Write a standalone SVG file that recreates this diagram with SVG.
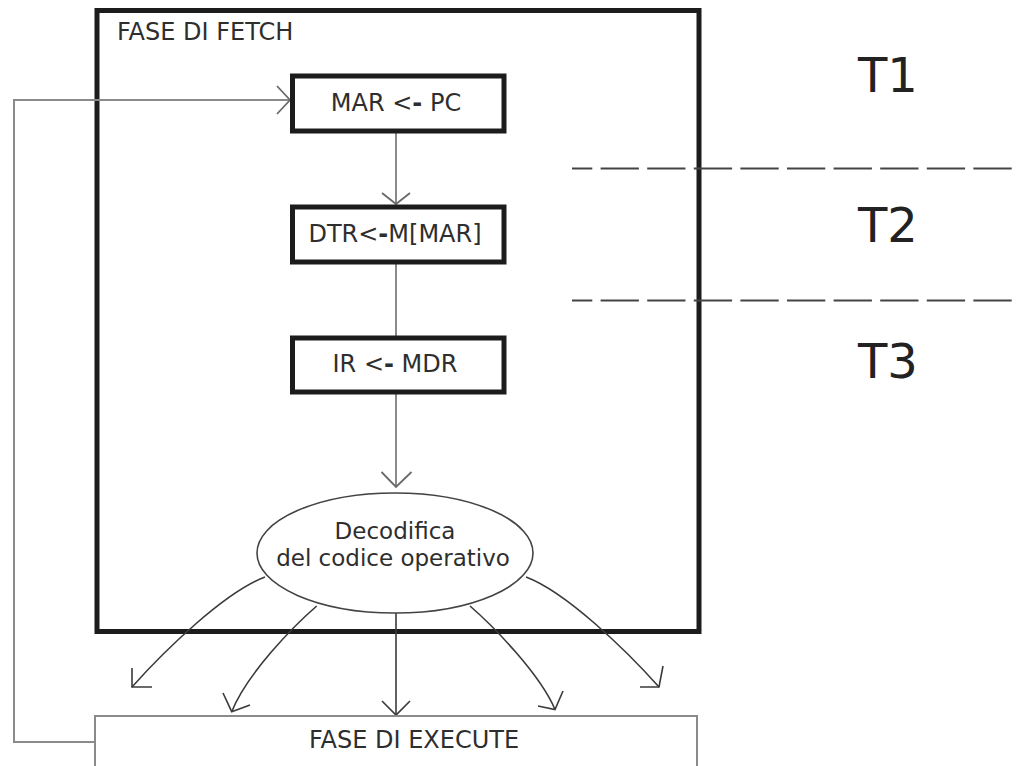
<svg xmlns="http://www.w3.org/2000/svg" width="1018" height="766" viewBox="0 0 1018 766">
  <style>
    .frame { fill: none; stroke: #1c1c1c; stroke-width: 5; }
    .box { fill: #fff; stroke: #1c1c1c; stroke-width: 5; }
    .thin { fill: #fff; stroke: #8a8a8a; stroke-width: 2; }
    .ell { fill: #fff; stroke: #444; stroke-width: 1.6; }
    .conn { fill: none; stroke: #8a8a8a; stroke-width: 2; }
    .curve { fill: none; stroke: #3a3a3a; stroke-width: 1.6; }
    .head { fill: none; stroke: #3a3a3a; stroke-width: 1.6; }
    .headg { fill: none; stroke: #6a6a6a; stroke-width: 1.8; }
    .dash { fill: none; stroke: #444; stroke-width: 2; stroke-dasharray: 38.3 8.3; }
    .t { font-family: "DejaVu Sans", Verdana, sans-serif; fill: #2e2e2e; }
    .lbl { font-size: 24px; }
    .el { font-size: 23px; }
    .big { font-size: 48px; fill: #222; }
  </style>

  <g id="frame-fetch">
    <rect class="frame" x="97" y="10.5" width="602" height="621"/>
    <text class="t lbl" x="117" y="40">FASE DI FETCH</text>
  </g>

  <g id="timing">
    <line class="dash" x1="572" y1="168.5" x2="1018" y2="168.5" stroke-dashoffset="18"/>
    <line class="dash" x1="572" y1="300.5" x2="1018" y2="300.5" stroke-dashoffset="18"/>
    <text class="t big" x="858" y="92">T1</text>
    <text class="t big" x="858" y="242">T2</text>
    <text class="t big" x="858" y="378">T3</text>
  </g>

  <g id="connectors">
    <polyline class="conn" points="95,742 14,742 14,100 290,100"/>
    <path class="headg" d="M277,86 L290,100 L277,114"/>
    <line class="conn" x1="396" y1="132" x2="396" y2="204"/>
    <path class="headg" d="M382,193 L396,204 L410,193"/>
    <line class="conn" x1="396" y1="264" x2="396" y2="336"/>
    <line class="conn" x1="396" y1="393" x2="396" y2="487"/>
    <path class="headg" d="M381.5,472 L396,487 L411.5,472"/>

    <path class="curve" d="M265,577 C225,592 165,650 132,687"/>
    <path class="head" d="M132,668 L132,687 L152,687"/>
    <path class="curve" d="M316.7,606 C292.7,626.8 246.7,674.2 231.7,711.7"/>
    <path class="head" d="M223,693 L231.7,711.7 L250,705"/>
    <line class="curve" x1="396" y1="613" x2="396" y2="715"/>
    <path class="head" d="M382,701 L396,715 L410,701"/>
    <path class="curve" d="M470,606 C494,626.8 540,674.2 555,709.5"/>
    <path class="head" d="M563,691 L555,709.5 L538,706"/>
    <path class="curve" d="M526,577 C566,592 626,650 659,687"/>
    <path class="head" d="M663,666 L659,687 L640,687"/>
  </g>

  <g id="mar-pc">
    <rect class="box" x="292.5" y="76" width="211.5" height="55"/>
    <text class="t lbl" x="396" y="111" text-anchor="middle">MAR &lt;<tspan font-weight="bold">-</tspan> PC</text>
  </g>

  <g id="dtr">
    <rect class="box" x="292.5" y="207" width="211.5" height="55"/>
    <text class="t lbl" x="395" y="242" text-anchor="middle">DTR&lt;<tspan font-weight="bold">-</tspan>M[MAR]</text>
  </g>

  <g id="ir-mdr">
    <rect class="box" x="292.5" y="338" width="211.5" height="54"/>
    <text class="t lbl" x="395" y="372" text-anchor="middle">IR &lt;<tspan font-weight="bold">-</tspan> MDR</text>
  </g>

  <g id="decodifica">
    <ellipse class="ell" cx="395" cy="553" rx="138" ry="60"/>
    <text class="t el" x="395" y="539" text-anchor="middle">Decodifica</text>
    <text class="t el" x="393" y="566" text-anchor="middle">del codice operativo</text>
  </g>

  <g id="fase-execute">
    <rect class="thin" x="95" y="716" width="602" height="70"/>
    <text class="t lbl" x="414" y="748" text-anchor="middle">FASE DI EXECUTE</text>
  </g>
</svg>
